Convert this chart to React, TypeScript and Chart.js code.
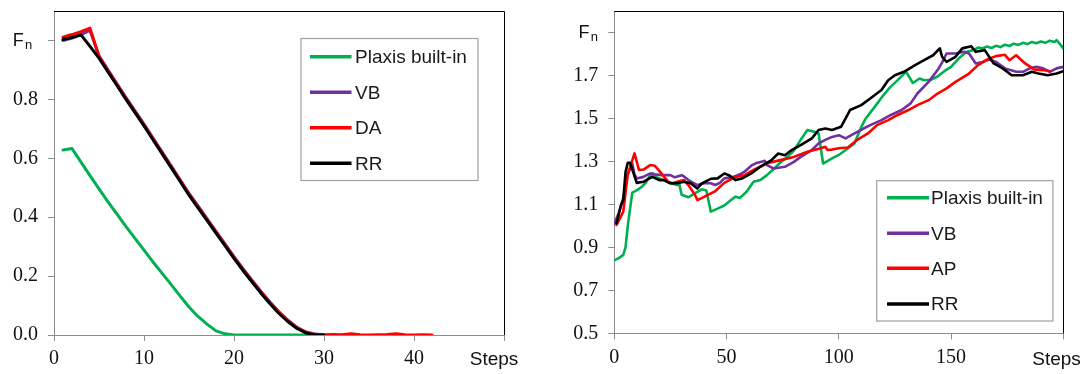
import { useEffect, useRef } from 'react';
import { Chart, registerables } from 'chart.js';

Chart.register(...registerables);

// ---------- Left panel data ----------
const leftSteps = [1, 2, 3, 4, 5, 6, 7, 8, 9, 10, 11, 12, 13, 14, 15, 16, 17, 18, 19, 20, 21, 22, 23, 24, 25, 26, 27, 28, 29, 30, 31, 32, 33, 34, 35, 36, 37, 38, 39, 40, 41, 42];
const plaxisLeft = [0.628, 0.633, 0.587, 0.541, 0.496, 0.452, 0.41, 0.368, 0.328, 0.288, 0.248, 0.21, 0.172, 0.133, 0.095, 0.063, 0.037, 0.014, 0.004, 0.0, 0, 0, 0, 0, 0, 0, 0, 0, 0, 0];
const vbLeft = [1.0, 1.008, 1.02, 1.034, 0.948, 0.9, 0.853, 0.806, 0.761, 0.716, 0.669, 0.622, 0.575, 0.528, 0.481, 0.438, 0.395, 0.352, 0.309, 0.266, 0.225, 0.186, 0.148, 0.112, 0.079, 0.05, 0.026, 0.01, 0.003, 0.001, 0.0];
const daLeft = [1.011, 1.02, 1.03, 1.042, 0.945, 0.896, 0.85, 0.803, 0.758, 0.713, 0.666, 0.619, 0.572, 0.525, 0.478, 0.435, 0.392, 0.349, 0.306, 0.263, 0.222, 0.183, 0.145, 0.109, 0.076, 0.048, 0.024, 0.009, 0.002, 0.0, 0.002, 0.001, 0.004, 0.001, 0.0, 0.001, 0.002, 0.004, 0.001, 0.0, 0.001, 0.0];
const rrLeft = [1.003, 1.01, 1.019, 0.98, 0.94, 0.893, 0.847, 0.8, 0.755, 0.71, 0.663, 0.616, 0.569, 0.522, 0.475, 0.432, 0.389, 0.346, 0.303, 0.26, 0.219, 0.18, 0.142, 0.106, 0.073, 0.045, 0.022, 0.007, 0.001, 0.0];
const leftXTicks = [0, 10, 20, 30, 40, 50];
const leftYTicks = [0, 0.2, 0.4, 0.6, 0.8, 1.0];
const leftLabels = ['Plaxis built-in', 'VB', 'DA', 'RR'];

// ---------- Right panel data ----------
const plaxisRSteps = [0, 2, 4, 5, 6, 8, 10, 12, 14, 16, 17, 19, 22, 25, 28, 29, 30, 33, 36, 39, 41, 43, 46, 49, 52, 54, 56, 59, 62, 65, 68, 71, 74, 77, 80, 83, 86, 89, 91, 93, 97, 100, 104, 107, 110, 112, 116, 120, 123, 126, 130, 133, 136, 138, 141, 144, 147, 150, 154, 157, 160, 162, 164, 166, 168, 170, 172, 174, 176, 178, 180, 182, 184, 186, 188, 190, 192, 194, 196, 197, 199, 200];
const plaxisRValues = [0.84, 0.85, 0.865, 0.9, 1.0, 1.155, 1.165, 1.18, 1.2, 1.235, 1.245, 1.225, 1.213, 1.198, 1.19, 1.192, 1.145, 1.133, 1.152, 1.17, 1.165, 1.066, 1.08, 1.095, 1.12, 1.136, 1.13, 1.16, 1.205, 1.213, 1.236, 1.265, 1.295, 1.32, 1.35, 1.4, 1.446, 1.438, 1.43, 1.29, 1.314, 1.33, 1.36, 1.384, 1.46, 1.5, 1.554, 1.61, 1.647, 1.676, 1.717, 1.665, 1.686, 1.678, 1.68, 1.695, 1.72, 1.74, 1.785, 1.81, 1.818, 1.83, 1.826, 1.835, 1.828, 1.838, 1.832, 1.843, 1.837, 1.848, 1.842, 1.852, 1.846, 1.856, 1.85, 1.858, 1.852, 1.862, 1.856, 1.864, 1.84, 1.826];
const vbRSteps = [0, 2, 4, 6, 8, 9, 10, 13, 16, 18, 21, 25, 27, 30, 31, 33, 37, 40, 43, 45, 47, 49, 53, 56, 58, 61, 63, 66, 67, 68, 71, 76, 80, 83, 88, 91, 94, 97, 100, 103, 107, 111, 114, 119, 123, 128, 132, 135, 140, 144, 146, 148, 152, 156, 158, 161, 164, 167, 170, 174, 179, 182, 185, 188, 191, 194, 197, 200];
const vbRValues = [1.01, 1.06, 1.13, 1.24, 1.29, 1.24, 1.22, 1.228, 1.244, 1.24, 1.236, 1.236, 1.226, 1.236, 1.23, 1.213, 1.19, 1.198, 1.198, 1.19, 1.2, 1.221, 1.228, 1.24, 1.252, 1.28, 1.291, 1.3, 1.303, 1.283, 1.267, 1.275, 1.298, 1.321, 1.353, 1.384, 1.4, 1.414, 1.422, 1.407, 1.43, 1.453, 1.469, 1.492, 1.515, 1.539, 1.57, 1.616, 1.67, 1.725, 1.76, 1.802, 1.802, 1.81, 1.802, 1.756, 1.763, 1.774, 1.763, 1.733, 1.717, 1.717, 1.733, 1.74, 1.733, 1.717, 1.733, 1.74];
const apRSteps = [1, 4, 6, 9, 11, 13, 16, 18, 21, 24, 26, 28, 31, 33, 36, 37, 40, 45, 49, 54, 58, 62, 68, 74, 80, 86, 92, 94, 95, 97, 100, 104, 108, 113, 117, 122, 126, 131, 135, 140, 144, 148, 152, 158, 162, 166, 170, 174, 176, 179, 183, 187, 191, 194];
const apRValues = [1.004, 1.066, 1.24, 1.337, 1.26, 1.262, 1.283, 1.28, 1.244, 1.205, 1.198, 1.205, 1.213, 1.19, 1.143, 1.12, 1.135, 1.162, 1.2, 1.228, 1.236, 1.26, 1.291, 1.306, 1.321, 1.345, 1.361, 1.368, 1.353, 1.355, 1.361, 1.365, 1.399, 1.43, 1.469, 1.492, 1.515, 1.539, 1.562, 1.585, 1.616, 1.64, 1.67, 1.709, 1.748, 1.774, 1.79, 1.796, 1.771, 1.794, 1.756, 1.728, 1.725, 1.72];
const rrRSteps = [1, 3, 4, 5, 6, 7, 10, 13, 15, 17, 20, 22, 25, 28, 31, 34, 37, 39, 43, 46, 49, 51, 54, 57, 61, 65, 70, 73, 76, 79, 83, 88, 91, 94, 97, 101, 105, 110, 114, 119, 122, 125, 129, 134, 138, 142, 145, 146, 148, 152, 155, 159, 161, 165, 169, 173, 177, 182, 186, 189, 193, 197, 200];
const rrRValues = [1.012, 1.097, 1.12, 1.25, 1.294, 1.294, 1.2, 1.205, 1.218, 1.228, 1.213, 1.213, 1.198, 1.198, 1.205, 1.198, 1.174, 1.198, 1.219, 1.221, 1.244, 1.236, 1.213, 1.221, 1.244, 1.275, 1.306, 1.337, 1.329, 1.353, 1.376, 1.407, 1.446, 1.453, 1.446, 1.461, 1.539, 1.562, 1.593, 1.632, 1.678, 1.701, 1.717, 1.748, 1.771, 1.794, 1.826, 1.787, 1.763, 1.787, 1.826, 1.836, 1.81, 1.818, 1.756, 1.733, 1.701, 1.701, 1.717, 1.709, 1.701, 1.709, 1.72];
const rightXTicks = [0, 50, 100, 150, 200];
const rightYTicks = [0.5, 0.7, 0.9, 1.1, 1.3, 1.5, 1.7, 1.9];
const rightLabels = ['Plaxis built-in', 'VB', 'AP', 'RR'];

// ---------- Styles ----------
const GREEN = '#00B050';
const PURPLE = '#7030A0';
const RED = '#FF0000';
const BLACK = '#000000';
const AXIS = '#8c8c8c';
const SANS = "'Liberation Sans', Arial, sans-serif";
const SERIF = "'Liberation Serif', 'Times New Roman', serif";
const W = 545;
const H = 374;

type Series = { label: string; color: string; steps: number[]; values: number[]; order: number };

type PanelCfg = {
  series: Series[];
  xMin: number; xMax: number; xTicks: number[];
  yMin: number; yMax: number; yTicks: number[];
  area: { left: number; right: number; top: number; bottom: number };
  lineWidth: number;
  legend: { x: number; y: number; w: number; h: number; l0: number; l1: number; tx: number; rows: number[] };
  fnValue: number; fnX: number;
  stepsX: number; stepsY: number;
};

const toXY = (steps: number[], values: number[]) => values.map((v, i) => ({ x: steps[i], y: v }));

const leftCfg: PanelCfg = {
  series: [
    { label: leftLabels[0], color: GREEN, steps: leftSteps, values: plaxisLeft, order: 4 },
    { label: leftLabels[1], color: PURPLE, steps: leftSteps, values: vbLeft, order: 3 },
    { label: leftLabels[2], color: RED, steps: leftSteps, values: daLeft, order: 2 },
    { label: leftLabels[3], color: BLACK, steps: leftSteps, values: rrLeft, order: 1 },
  ],
  xMin: 0, xMax: 50, xTicks: leftXTicks,
  yMin: 0, yMax: 1.1, yTicks: leftYTicks,
  area: { left: 54, right: 504, top: 11, bottom: 335 },
  lineWidth: 3,
  legend: { x: 301, y: 38.5, w: 177, h: 142, l0: 310, l1: 351.5, tx: 355, rows: [56.7, 92.3, 127.7, 163.3] },
  fnValue: 1.0, fnX: 12.7,
  stepsX: 494, stepsY: 365,
};

const rightCfg: PanelCfg = {
  series: [
    { label: rightLabels[0], color: GREEN, steps: plaxisRSteps, values: plaxisRValues, order: 4 },
    { label: rightLabels[1], color: PURPLE, steps: vbRSteps, values: vbRValues, order: 3 },
    { label: rightLabels[2], color: RED, steps: apRSteps, values: apRValues, order: 2 },
    { label: rightLabels[3], color: BLACK, steps: rrRSteps, values: rrRValues, order: 1 },
  ],
  xMin: 0, xMax: 200, xTicks: rightXTicks,
  yMin: 0.5, yMax: 2.0, yTicks: rightYTicks,
  area: { left: 69.3, right: 518.3, top: 11, bottom: 333.3 },
  lineWidth: 2.6,
  legend: { x: 331.7, y: 180.7, w: 176.2, h: 140.3, l0: 342, l1: 384, tx: 386, rows: [197.7, 233.3, 268.3, 304] },
  fnValue: 1.9, fnX: 33.5,
  stepsX: 511.5, stepsY: 365,
};

function makeOverlay(cfg: PanelCfg) {
  return {
    id: 'overlay',
    beforeDatasetsDraw(chart: any) {
      const { ctx, chartArea: a } = chart;
      ctx.save();
      ctx.strokeStyle = '#000';
      ctx.lineWidth = 1;
      ctx.beginPath();
      ctx.moveTo(a.left, Math.round(a.top) + 0.5);
      ctx.lineTo(Math.round(a.right) + 0.5, Math.round(a.top) + 0.5);
      ctx.lineTo(Math.round(a.right) + 0.5, a.bottom);
      ctx.stroke();
      ctx.restore();
    },
    afterDraw(chart: any) {
      const { ctx } = chart;
      const lg = cfg.legend;
      ctx.save();
      // legend box
      ctx.fillStyle = '#fff';
      ctx.fillRect(lg.x, lg.y, lg.w, lg.h);
      ctx.strokeStyle = '#a0a0a0';
      ctx.lineWidth = 1.2;
      ctx.strokeRect(lg.x, lg.y, lg.w, lg.h);
      cfg.series.forEach((s, i) => {
        const y = lg.rows[i];
        ctx.strokeStyle = s.color;
        ctx.lineWidth = 3.5;
        ctx.lineCap = 'butt';
        ctx.beginPath();
        ctx.moveTo(lg.l0, y);
        ctx.lineTo(lg.l1, y);
        ctx.stroke();
        ctx.fillStyle = '#1a1a1a';
        ctx.font = `19px ${SANS}`;
        ctx.textAlign = 'left';
        ctx.textBaseline = 'middle';
        ctx.fillText(s.label, lg.tx, y + 1);
      });
      // F_n label
      const fy = chart.scales.y.getPixelForValue(cfg.fnValue);
      ctx.fillStyle = '#111';
      ctx.textBaseline = 'alphabetic';
      ctx.textAlign = 'left';
      ctx.font = `18px ${SANS}`;
      ctx.fillText('F', cfg.fnX, fy + 5.5);
      ctx.font = `13px ${SANS}`;
      ctx.fillText('n', cfg.fnX + 12.3, fy + 9);
      // Steps label
      ctx.font = `19px ${SANS}`;
      ctx.textAlign = 'center';
      ctx.fillText('Steps', cfg.stepsX, cfg.stepsY);
      ctx.restore();
    },
  };
}

function Panel({ cfg, left }: { cfg: PanelCfg; left: number }) {
  const ref = useRef<HTMLCanvasElement>(null);
  useEffect(() => {
    const a = cfg.area;
    const chart = new Chart(ref.current as HTMLCanvasElement, {
      type: 'line',
      data: {
        datasets: cfg.series.map((s) => ({
          label: s.label,
          data: toXY(s.steps, s.values),
          borderColor: s.color,
          backgroundColor: s.color,
          borderWidth: cfg.lineWidth,
          pointRadius: 0,
          tension: 0,
          fill: false,
          order: s.order,
          borderJoinStyle: 'round',
          borderCapStyle: 'round',
        })),
      } as any,
      options: {
        animation: false,
        responsive: false,
        events: [],
        devicePixelRatio: 1,
        layout: { padding: { left: 0, top: a.top, right: W - a.right, bottom: 0 } },
        plugins: { legend: { display: false }, tooltip: { enabled: false } },
        scales: {
          x: {
            type: 'linear',
            min: cfg.xMin,
            max: cfg.xMax,
            grid: { drawOnChartArea: false, drawTicks: true, tickLength: 6, color: AXIS },
            border: { color: AXIS, width: 1 },
            ticks: {
              autoSkip: false,
              maxRotation: 0,
              padding: 6,
              color: '#111',
              font: { family: SERIF, size: 20 },
              callback: (v: any) => (Number(v) === cfg.xMax ? '' : String(v)),
            },
            afterBuildTicks: (s: any) => {
              s.ticks = cfg.xTicks.map((v) => ({ value: v }));
            },
            afterFit: (s: any) => {
              s.height = H - a.bottom;
              s.paddingLeft = 0;
              s.paddingRight = 0;
              s.paddingTop = 0;
              s.paddingBottom = 0;
            },
          },
          y: {
            type: 'linear',
            min: cfg.yMin,
            max: cfg.yMax,
            grid: { drawOnChartArea: false, drawTicks: true, tickLength: 6, color: AXIS },
            border: { color: AXIS, width: 1 },
            ticks: {
              autoSkip: false,
              padding: 10,
              color: '#111',
              font: { family: SERIF, size: 20 },
              callback: (v: any) => (Math.abs(Number(v) - cfg.fnValue) < 1e-6 ? '' : Number(v).toFixed(1)),
            },
            afterBuildTicks: (s: any) => {
              s.ticks = cfg.yTicks.map((v) => ({ value: v }));
            },
            afterFit: (s: any) => {
              s.width = a.left;
              s.paddingLeft = 0;
              s.paddingRight = 0;
              s.paddingTop = 0;
              s.paddingBottom = 0;
            },
          },
        },
      } as any,
      plugins: [makeOverlay(cfg)],
    });
    return () => chart.destroy();
  }, [cfg]);
  return (
    <div style={{ position: 'absolute', left, top: 0, width: W, height: H }}>
      <canvas ref={ref} width={W} height={H} style={{ display: 'block', width: W, height: H }} />
    </div>
  );
}

export default function App() {
  return (
    <div style={{ position: 'fixed', left: 0, top: 0, width: 1090, height: 374, background: '#fff', overflow: 'hidden' }}>
      <Panel cfg={leftCfg} left={0} />
      <Panel cfg={rightCfg} left={545} />
    </div>
  );
}
